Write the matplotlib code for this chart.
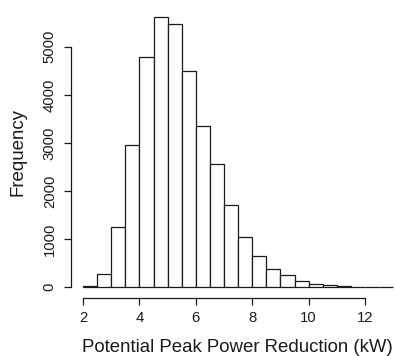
import matplotlib
matplotlib.use("Agg")
import matplotlib.pyplot as plt
import numpy as np

plt.rcParams['font.family'] = ['Liberation Sans', 'DejaVu Sans']

bin_edges = [2.0, 2.5, 3.0, 3.5, 4.0, 4.5, 5.0, 5.5, 6.0, 6.5, 7.0, 7.5, 8.0,
             8.5, 9.0, 9.5, 10.0, 10.5, 11.0, 11.5, 12.0, 12.5, 13.0]
counts = [30, 265, 1255, 2950, 4790, 5610, 5465, 4500, 3350, 2560, 1700, 1040,
          645, 375, 250, 125, 77, 42, 15, 10, 5, 3]
x_ticks = [2, 4, 6, 8, 10, 12]
y_ticks = [0, 1000, 2000, 3000, 4000, 5000]

W, H = 395, 356
fig = plt.figure(figsize=(W / 100, H / 100), dpi=100)
left_px, right_px = 70.7, 405.6
top_px, bottom_px = 6.6, 298.0
ax = fig.add_axes([left_px / W, 1 - bottom_px / H,
                   (right_px - left_px) / W, (bottom_px - top_px) / H])

lefts = np.array(bin_edges[:-1])
widths = np.diff(bin_edges)
ax.bar(lefts, counts, width=widths, align='edge', color='white',
       edgecolor='#1a1a1a', linewidth=0.9)

xr = bin_edges[-1] - bin_edges[0]
ax.set_xlim(bin_edges[0] - 0.04 * xr, bin_edges[-1] + 0.04 * xr)
ymax = max(counts)
ax.set_ylim(-0.04 * ymax, ymax * 1.04)

for s in ['top', 'right']:
    ax.spines[s].set_visible(False)
ax.spines['left'].set_bounds(y_ticks[0], y_ticks[-1])
ax.spines['bottom'].set_bounds(x_ticks[0], x_ticks[-1])
for s in ['left', 'bottom']:
    ax.spines[s].set_linewidth(0.9)
    ax.spines[s].set_color('#1a1a1a')

ax.set_xticks(x_ticks)
ax.set_yticks(y_ticks)
ax.set_yticklabels([str(v) for v in y_ticks], rotation=90, va='center')
ax.tick_params(axis='both', direction='out', length=5, width=0.9,
               color='#1a1a1a', labelsize=10.7, labelcolor='#1a1a1a')
ax.tick_params(axis='x', pad=4.5)
ax.tick_params(axis='y', pad=5)

fig.text(0.5 * (82 + 393) / W, 1 - 347 / H, 'Potential Peak Power Reduction (kW)',
         ha='center', va='center', fontsize=13.4, color='#1a1a1a')
fig.text(18 / W, 1 - 152 / H, 'Frequency', rotation=90,
         ha='center', va='center', fontsize=13.4, color='#1a1a1a')

fig.savefig('out.png', dpi=100)
